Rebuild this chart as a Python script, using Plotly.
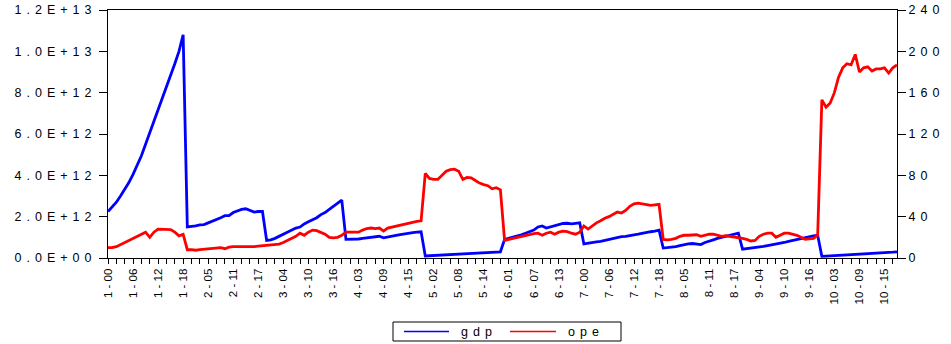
import plotly.graph_objects as go

# Panel layout: 10 cross-sections, years 00-18
sections = [str(s) for s in range(1, 11)]
years = ["00", "01", "02", "03", "04", "05", "06", "07", "08", "09",
         "10", "11", "12", "13", "14", "15", "16", "17", "18"]
obs = [f"{s} - {y}" for s in sections for y in years]

# GDP, in units of 1E+12 (left axis)
gdp_s1 = [2.25, 2.45, 2.7, 3.0, 3.3, 3.65, 4.05, 4.5, 4.95, 5.5, 6.05, 6.6, 7.15, 7.7, 8.3, 8.85, 9.4, 10.0, 10.8]
gdp_s2 = [1.5, 1.52, 1.55, 1.6, 1.62, 1.7, 1.78, 1.85, 1.95, 2.05, 2.05, 2.2, 2.28, 2.35, 2.38, 2.3, 2.22, 2.25, 2.25]
gdp_s3 = [0.85, 0.88, 0.95, 1.05, 1.15, 1.25, 1.35, 1.45, 1.5, 1.65, 1.75, 1.85, 1.95, 2.1, 2.2, 2.35, 2.5, 2.65, 2.8]
gdp_s4 = [0.9, 0.9, 0.9, 0.92, 0.95, 0.98, 1.0, 1.03, 1.05, 0.98, 1.03, 1.08, 1.1, 1.13, 1.17, 1.2, 1.23, 1.25, 1.27]
gdp_s5 = [0.1, 0.11, 0.12, 0.13, 0.14, 0.15, 0.16, 0.17, 0.18, 0.19, 0.2, 0.21, 0.22, 0.23, 0.24, 0.25, 0.27, 0.28, 0.3]
gdp_s6 = [0.9, 0.95, 1.0, 1.05, 1.12, 1.2, 1.27, 1.35, 1.5, 1.55, 1.45, 1.5, 1.55, 1.6, 1.67, 1.68, 1.65, 1.68, 1.7]
gdp_s7 = [0.68, 0.72, 0.75, 0.78, 0.8, 0.85, 0.9, 0.95, 1.0, 1.03, 1.05, 1.1, 1.12, 1.15, 1.2, 1.23, 1.27, 1.3, 1.35]
gdp_s8 = [0.48, 0.5, 0.52, 0.55, 0.6, 0.65, 0.68, 0.7, 0.68, 0.65, 0.75, 0.8, 0.88, 0.95, 1.0, 1.05, 1.1, 1.15, 1.2]
gdp_s9 = [0.43, 0.45, 0.48, 0.5, 0.53, 0.56, 0.6, 0.63, 0.67, 0.7, 0.75, 0.8, 0.85, 0.9, 0.95, 1.0, 1.03, 1.07, 1.1]
gdp_s10 = [0.08, 0.09, 0.1, 0.11, 0.12, 0.13, 0.14, 0.15, 0.16, 0.17, 0.18, 0.2, 0.21, 0.22, 0.24, 0.25, 0.26, 0.28, 0.3]

# Openness (right axis)
ope_s1 = [10, 10, 11, 13, 15.5, 17.5, 19.5, 21.5, 23.5, 25, 20, 25, 28, 28, 28, 27.5, 25, 21.5, 23]
ope_s2 = [8, 8, 7.5, 8, 8.5, 9, 9.5, 10, 10, 9, 10.5, 11, 11, 11, 11, 10.5, 11, 11.5, 12]
ope_s3 = [12, 12.5, 13, 13.5, 15, 17, 19, 21, 24, 22, 25, 27, 26.5, 25, 23, 20, 19.5, 20, 22]
ope_s4 = [25, 25, 25, 25, 27, 28.5, 29, 28.5, 29, 26, 29, 30, 31, 32, 33, 34, 35, 35.5, 36]
ope_s5 = [82, 77, 76, 76, 80, 84, 85.5, 86, 84, 76, 78, 77.5, 75, 72.5, 71, 70, 67, 68, 66]
ope_s6 = [17, 18, 19, 20, 21, 22, 23, 23.5, 24, 22, 24, 25, 23, 25, 26, 25.5, 24, 23, 25]
ope_s7 = [31, 28, 31, 34, 36, 38.5, 40, 42, 44.5, 43.5, 46, 50, 52.5, 53, 52.5, 51.5, 51, 51.5, 52]
ope_s8 = [18, 17.5, 18, 19, 21, 22, 22, 22, 22.5, 21, 22, 23, 23, 22, 21, 21.5, 21, 20.5, 20]
ope_s9 = [19, 18, 16.5, 17, 21, 23, 24, 24, 20, 22, 24, 24, 23, 22, 20, 18, 18.5, 19, 22]
ope_s10 = [153, 146, 150, 160, 175, 184, 188, 187, 197, 180, 184, 185, 181, 183, 183, 184, 179, 184, 187]

gdp_e12 = (gdp_s1 + gdp_s2 + gdp_s3 + gdp_s4 + gdp_s5 +
           gdp_s6 + gdp_s7 + gdp_s8 + gdp_s9 + gdp_s10)
ope = (ope_s1 + ope_s2 + ope_s3 + ope_s4 + ope_s5 +
       ope_s6 + ope_s7 + ope_s8 + ope_s9 + ope_s10)
gdp = [v * 1e12 for v in gdp_e12]

# Axis ticks
left_ticks = [0, 2e12, 4e12, 6e12, 8e12, 10e12, 12e12]
left_labels = ["0.0E+00", "2.0E+12", "4.0E+12", "6.0E+12", "8.0E+12", "1.0E+13", "1.2E+13"]
right_ticks = [0, 40, 80, 120, 160, 200, 240]
right_labels = ["0", "40", "80", "120", "160", "200", "240"]
x_idx = list(range(len(obs)))
x_ticks = x_idx[::6]
x_labels = obs[::6]

FONT = "Liberation Sans, Arial, sans-serif"
SPACED = '<span style="letter-spacing:5px">{}</span>'

W, H = 951, 344
L, R, T, B = 108, 54, 10, 86
pw, ph = W - L - R, H - T - B


def px(xp):
    return (xp - L) / pw


def py(yp):
    return (H - B - yp) / ph


fig = go.Figure()
fig.add_trace(go.Scatter(x=x_idx, y=gdp, name="gdp", mode="lines",
                         line=dict(color="#0000FF", width=2.8), yaxis="y"))
fig.add_trace(go.Scatter(x=x_idx, y=ope, name="ope", mode="lines",
                         line=dict(color="#FF0000", width=2.8), yaxis="y2"))

fig.update_layout(
    width=W, height=H,
    margin=dict(l=L, r=R, t=T, b=B, pad=0),
    paper_bgcolor="white", plot_bgcolor="white",
    showlegend=False,
    font=dict(family=FONT, size=12, color="black"),
    xaxis=dict(
        range=[0, len(obs) - 1], tickmode="array", tickvals=x_ticks,
        ticktext=x_labels, tickangle=-90, ticks="outside", ticklen=5,
        tickcolor="black", tickwidth=1, showgrid=False, zeroline=False,
        showline=True, linecolor="black", linewidth=1, mirror=True,
        tickfont=dict(family=FONT, size=11.5, color="black"),
        minor=dict(tick0=0, dtick=2, ticks="outside", ticklen=5,
                   tickcolor="black", tickwidth=1, showgrid=False),
        automargin=False,
    ),
    yaxis=dict(
        range=[0, 1.2e13], tickmode="array", tickvals=left_ticks,
        ticktext=[SPACED.format(t) for t in left_labels],
        ticks="outside", ticklen=8, tickcolor="black", tickwidth=1,
        showgrid=False, zeroline=False, showline=True, linecolor="black",
        linewidth=1, tickfont=dict(family=FONT, size=12.5, color="black"),
        automargin=False,
    ),
    yaxis2=dict(
        range=[0, 240], tickmode="array", tickvals=right_ticks,
        ticktext=[SPACED.format(t) for t in right_labels],
        overlaying="y", side="right", ticks="outside", ticklen=8,
        tickcolor="black", tickwidth=1, showgrid=False, zeroline=False,
        showline=True, linecolor="black", linewidth=1,
        tickfont=dict(family=FONT, size=12.5, color="black"),
        automargin=False,
    ),
)

# Legend box drawn below the plot
fig.add_shape(type="rect", xref="paper", yref="paper",
              x0=px(393), x1=px(621), y0=py(341), y1=py(322),
              line=dict(color="black", width=1), fillcolor="white")
legend_items = [("gdp", "#0000FF", 404, 449, 459), ("ope", "#FF0000", 510, 556, 566)]
for name, color, lx0, lx1, tx in legend_items:
    fig.add_shape(type="line", xref="paper", yref="paper",
                  x0=px(lx0), x1=px(lx1), y0=py(331.5), y1=py(331.5),
                  line=dict(color=color, width=1.6))
    fig.add_annotation(xref="paper", yref="paper", x=px(tx), y=py(331.5),
                       text=SPACED.format(name), showarrow=False,
                       xanchor="left", yanchor="middle",
                       font=dict(family=FONT, size=12.5, color="black"))

fig.write_html("out.html")
